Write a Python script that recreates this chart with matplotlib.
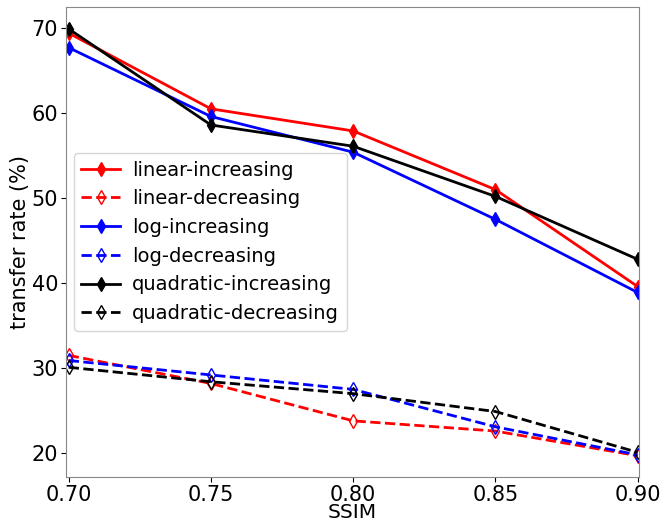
import matplotlib
matplotlib.use("Agg")
import matplotlib.pyplot as plt

ssim = [0.70, 0.75, 0.80, 0.85, 0.90]
linear_inc = [69.4, 60.5, 57.9, 51.0, 39.6]
linear_dec = [31.5, 28.2, 23.8, 22.6, 19.7]
log_inc = [67.7, 59.6, 55.4, 47.5, 38.9]
log_dec = [30.9, 29.2, 27.5, 23.1, 19.8]
quad_inc = [69.9, 58.6, 56.1, 50.2, 42.8]
quad_dec = [30.1, 28.4, 27.0, 24.9, 20.1]
xticks = [0.70, 0.75, 0.80, 0.85, 0.90]
yticks = [20, 30, 40, 50, 60, 70]

fig = plt.figure(figsize=(6.72, 5.23), dpi=100)
ax = fig.add_axes([0.098, 0.088, 0.853, 0.899])

lw = 2.0
ms = 7
ax.plot(ssim, linear_inc, '-', color='red', marker='d', lw=lw, ms=ms, label='linear-increasing')
ax.plot(ssim, linear_dec, '--', color='red', marker='d', mfc='none', lw=lw, ms=ms, label='linear-decreasing')
ax.plot(ssim, log_inc, '-', color='blue', marker='d', lw=lw, ms=ms, label='log-increasing')
ax.plot(ssim, log_dec, '--', color='blue', marker='d', mfc='none', lw=lw, ms=ms, label='log-decreasing')
ax.plot(ssim, quad_inc, '-', color='black', marker='d', lw=lw, ms=ms, label='quadratic-increasing')
ax.plot(ssim, quad_dec, '--', color='black', marker='d', mfc='none', lw=lw, ms=ms, label='quadratic-decreasing')

ax.set_xlim(0.699, 0.9005)
ax.set_ylim(17.2, 72.5)
ax.set_xticks(xticks)
ax.set_xticklabels([f"{v:.2f}" for v in xticks])
ax.set_yticks(yticks)
ax.tick_params(labelsize=15, pad=2)
ax.set_xlabel('SSIM', fontsize=14.5, labelpad=-1)
ax.set_ylabel('transfer rate (%)', fontsize=15, labelpad=1)
for s in ax.spines.values():
    s.set_color('#888888')
ax.legend(loc='center left', fontsize=14, handlelength=2.0, handletextpad=0.6,
          borderaxespad=0.4, labelspacing=0.5)

fig.savefig('out.png', dpi=100)
